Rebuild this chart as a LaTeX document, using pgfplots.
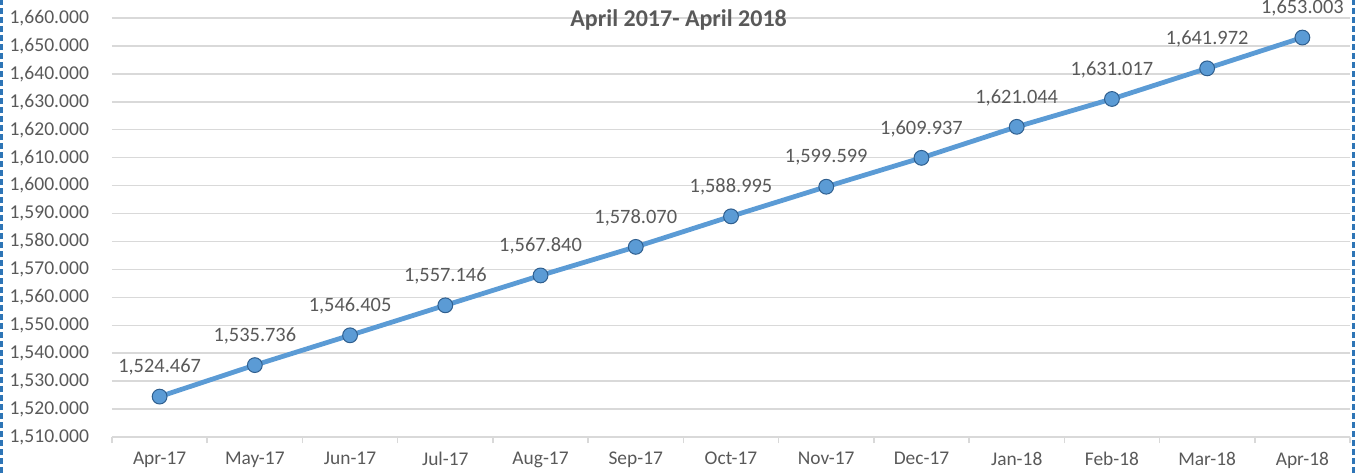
\documentclass[border=0pt]{standalone}
\usepackage{pgfplots}
\usepackage{pgfplotstable}
\pgfplotsset{compat=1.18}
\usepackage{fontspec}
\setmainfont{Carlito}

\definecolor{txt}{HTML}{595959}
\definecolor{gridc}{HTML}{D9D9D9}
\definecolor{lineblue}{HTML}{5B9BD5}
\definecolor{markedge}{HTML}{2F5F8F}
\definecolor{frame}{HTML}{2E75B6}

\pgfplotstableread{
x  y         lab
0  1524.467  1,524.467
1  1535.736  1,535.736
2  1546.405  1,546.405
3  1557.146  1,557.146
4  1567.840  1,567.840
5  1578.070  1,578.070
6  1588.995  1,588.995
7  1599.599  1,599.599
8  1609.937  1,609.937
9  1621.044  1,621.044
10 1631.017  1,631.017
11 1641.972  1,641.972
12 1653.003  1,653.003
}\regdata

\begin{document}
\begin{tikzpicture}
\useasboundingbox (-56pt,-18pt) rectangle (621.5pt,218.5pt);
\begin{axis}[
    at={(0,0)}, anchor=south west,
    scale only axis,
    width=619pt, height=209.5pt,
    clip=false,
    xmin=-0.5, xmax=12.5,
    ymin=1510, ymax=1660,
    ytick={1510,1520,1530,1540,1550,1560,1570,1580,1590,1600,1610,1620,1630,1640,1650,1660},
    yticklabels={1{,}510.000,1{,}520.000,1{,}530.000,1{,}540.000,1{,}550.000,1{,}560.000,1{,}570.000,1{,}580.000,1{,}590.000,1{,}600.000,1{,}610.000,1{,}620.000,1{,}630.000,1{,}640.000,1{,}650.000,1{,}660.000},
    xtick={0,...,12},
    xticklabels={Apr-17,May-17,Jun-17,Jul-17,Aug-17,Sep-17,Oct-17,Nov-17,Dec-17,Jan-18,Feb-18,Mar-18,Apr-18},
    extra x ticks={-0.5,0.5,...,12.5},
    extra x tick labels={},
    extra x tick style={major tick length=3pt, tick style={color=gridc, line width=0.75pt}, tick align=outside},
    major tick length=0pt,
    axis x line*=bottom,
    axis y line*=left,
    x axis line style={color=gridc, line width=0.75pt, -},
    y axis line style={draw=none},
    ymajorgrids,
    grid style={color=gridc, line width=0.75pt},
    yticklabel style={font=\fontsize{9.8}{11}\selectfont, text=txt, xshift=-8pt},
    xticklabel style={font=\fontsize{9.7}{11}\selectfont, text=txt, yshift=-4pt},
]
\addplot[
    color=lineblue, line width=2.4pt,
    mark=*, mark size=3.7pt,
    mark options={fill=lineblue, draw=markedge, line width=0.5pt},
    nodes near coords,
    point meta=explicit symbolic,
    every node near coord/.append style={font=\fontsize{10.2}{12}\selectfont, text=txt, anchor=south, yshift=7pt},
] table[x=x, y=y, meta=lab] {\regdata};
\node[font=\bfseries\fontsize{12}{14}\selectfont, text=txt] at (axis cs:5.45,1659.3) {April 2017- April 2018};
\end{axis}
\draw[frame, line width=1.5pt, dash pattern=on 3pt off 1.5pt] (-55pt,-18pt) -- (-55pt,218.5pt);
\draw[frame, line width=1.5pt, dash pattern=on 3pt off 1.5pt] (620.5pt,-18pt) -- (620.5pt,218.5pt);
\end{tikzpicture}
\end{document}
